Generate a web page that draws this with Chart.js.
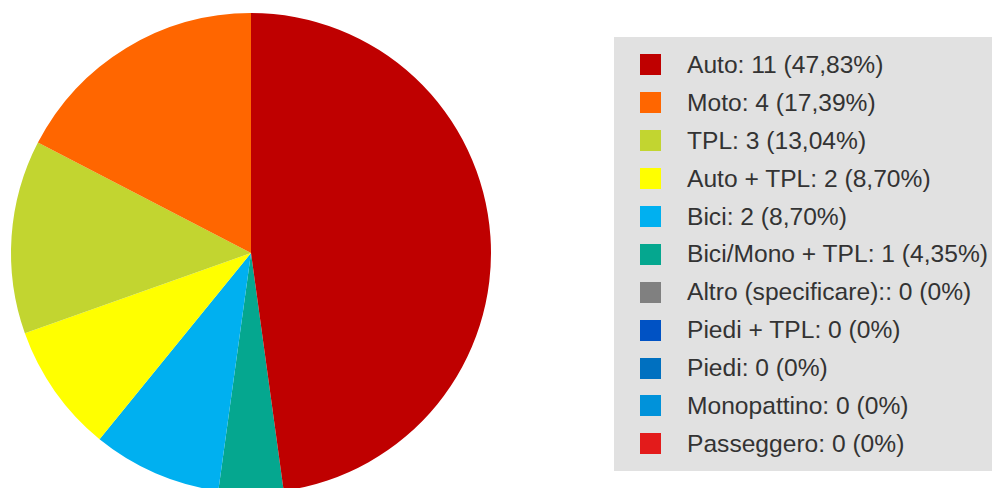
<!DOCTYPE html>
<html>
<head>
<meta charset="utf-8">
<script src="https://cdn.jsdelivr.net/npm/chart.js@4/dist/chart.umd.min.js"></script>
<style>
  html, body { margin: 0; padding: 0; background: #fff; }
  body { width: 992px; height: 488px; overflow: hidden; position: relative; font-family: "Liberation Sans", Arial, sans-serif; }
  #chartBox { position: absolute; left: 0; top: 0; width: 502px; height: 506px; }
  #legend { position: absolute; left: 614px; top: 37px; width: 400px; height: 434px; background: #e1e1e1; }
  #legend ul { list-style: none; margin: 0; padding: 9px 0 0 26px; }
  #legend li { height: 37.9px; display: flex; align-items: center; font-size: 24.6px; color: #333; white-space: nowrap; }
  #legend li span.box { display: inline-block; width: 21px; height: 21px; margin-right: 26px; }
</style>
</head>
<body>
<div id="chartBox"><canvas id="pieChart"></canvas></div>
<div id="legend"></div>
<script>
// categorie e valori
const labels = ['Auto', 'Moto', 'TPL', 'Auto + TPL', 'Bici', 'Bici/Mono + TPL', 'Altro (specificare):', 'Piedi + TPL', 'Piedi', 'Monopattino', 'Passeggero'];
const values = [11, 4, 3, 2, 2, 1, 0, 0, 0, 0, 0];
const colors = ['#bf0000', '#ff6600', '#c2d530', '#ffff00', '#00b0f0', '#05a78f', '#808080', '#0052c4', '#0070c0', '#0092da', '#e31b1b'];

const total = values.reduce((a, b) => a + b, 0);

// percentuale con virgola, "0%" quando zero
function perc(v) {
    if (!v) return '0%';
    return (v / total * 100).toFixed(2).replace('.', ',') + '%';
}

// il grafico originale gira in senso antiorario: invertiamo l'ordine
// e ruotiamo cosi' che "Auto" parta dall'alto
const rev = arr => arr.slice().reverse();

const chart = new Chart(document.getElementById('pieChart'), {
    type: 'pie',
    data: {
        labels: rev(labels),
        datasets: [{
            data: rev(values),
            backgroundColor: rev(colors),
            borderWidth: 0
        }]
    },
    options: {
        responsive: true,
        maintainAspectRatio: false,
        animation: false,
        rotation: 360 * values[0] / total,
        layout: { padding: { left: 11, right: 11, top: 13, bottom: 13 } },
        plugins: {
            legend: { display: false },
            tooltip: { enabled: false }
        }
    }
});

// legenda HTML nell'ordine originale
const ul = document.createElement('ul');
labels.forEach((lab, i) => {
    const li = document.createElement('li');
    const box = document.createElement('span');
    box.className = 'box';
    box.style.background = colors[i];
    li.appendChild(box);
    li.appendChild(document.createTextNode(lab + ': ' + values[i] + ' (' + perc(values[i]) + ')'));
    ul.appendChild(li);
});
document.getElementById('legend').appendChild(ul);
</script>
</body>
</html>
